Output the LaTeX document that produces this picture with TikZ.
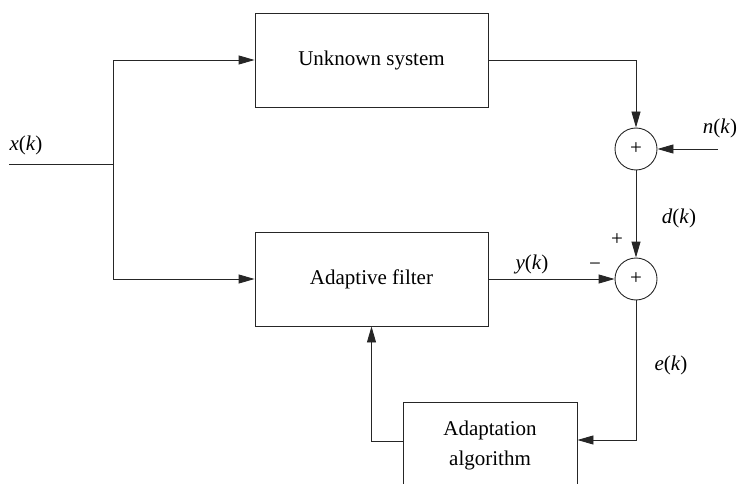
\documentclass[tikz,border=0pt]{standalone}
\usepackage{fontspec}
\setmainfont{Liberation Serif}
\usetikzlibrary{arrows.meta}
\begin{document}
\begin{tikzpicture}[x=1pt,y=-1pt,
  line width=0.9pt,
  wire/.style={draw=black!85},
  block/.style={draw=black!85, rectangle, inner sep=0pt, align=center,
    font=\fontsize{21}{30}\selectfont},
  sumnode/.style={draw=black!85, circle, minimum size=42pt, inner sep=0pt,
    font=\fontsize{21}{21}\selectfont},
  sig/.style={font=\fontsize{21}{21}\selectfont, inner sep=0pt},
  arr/.style={wire, -{Triangle[length=16pt,width=9pt]}}]
\useasboundingbox (0,0) rectangle (739,484);
\clip (0,0) rectangle (739,484);

% blocks
\node[block, minimum width=233pt, minimum height=94pt] (us) at (371.5,60) {Unknown system};
\node[block, minimum width=233pt, minimum height=94pt] (af) at (371.5,279) {Adaptive filter};
\node[block, minimum width=174pt, minimum height=86pt] (aa) at (490,445) {Adaptation\\algorithm};

% summing junctions
\node[sumnode] (s1) at (636,149) {+};
\node[sumnode] (s2) at (636,279) {+};

% free ends and branch point
\coordinate (in) at (9,164);
\coordinate (br) at (113,164);
\coordinate (nin) at (718,149);

% input split
\draw[wire] (in) -- (br);
\draw[arr] (br) |- (us.west);
\draw[arr] (br) |- (af.west);

% plant output and noise
\draw[arr] (us.east) -| (s1.north);
\draw[arr] (nin) -- (s1.east);
\draw[arr] (s1.south) -- (s2.north);

% filter output and error
\draw[arr] (af.east) -- (s2.west);
\draw[arr] (s2.south) |- ([yshift=5pt]aa.east);
\draw[arr] ([yshift=4pt]aa.west) -| (af.south);

% signal labels
\node[sig] (lx) at (26,145) {\textit{x}(\textit{k})};
\node[sig] (ln) at (720,128) {\textit{n}(\textit{k})};
\node[sig] (ld) at (679,218) {\textit{d}(\textit{k})};
\node[sig] (ly) at (532,264) {\textit{y}(\textit{k})};
\node[sig] (le) at (671,365) {\textit{e}(\textit{k})};
\node[sig] (lp) at (617,240) {+};
\node[sig] (lm) at (595,267) {−};
\end{tikzpicture}
\end{document}
